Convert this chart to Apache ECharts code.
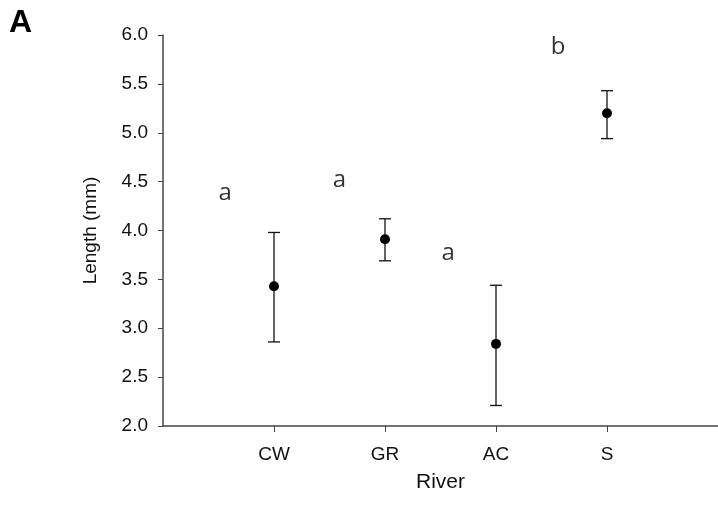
<!DOCTYPE html>
<html>
<head>
<meta charset="utf-8">
<script src="https://cdn.jsdelivr.net/npm/echarts@6/dist/echarts.min.js"></script>
<style>
  html, body { margin: 0; padding: 0; background: #fff; }
  #chart { width: 718px; height: 514px; }
</style>
</head>
<body>
<div id="chart"></div>
<script>
// Mean body length per river with error bars
const rivers = ['CW', 'GR', 'AC', 'S'];
const riverPos = [1, 2, 3, 4];
const meanLength = [3.43, 3.91, 2.84, 5.20];
const lowerLength = [2.86, 3.69, 2.21, 4.94];
const upperLength = [3.98, 4.12, 3.44, 5.43];

// Significance group letters
const groupLetters = ['a', 'a', 'a', 'b'];
const letterPos = [0.56, 1.59, 2.57, 3.56];
const letterY = [4.38, 4.51, 3.77, 5.88];

const yTicks = ['2.0', '2.5', '3.0', '3.5', '4.0', '4.5', '5.0', '5.5', '6.0'];

const chart = echarts.init(document.getElementById('chart'), null, { renderer: 'canvas' });

const axisColor = '#444';
const textFont = 'Liberation Sans, Arial, sans-serif';

chart.setOption({
  animation: false,
  grid: { left: 163, right: 0, top: 35, bottom: 88, containLabel: false },
  title: {
    text: 'A',
    left: 4,
    top: 2,
    textStyle: { fontFamily: textFont, fontWeight: 'bold', fontSize: 32, color: '#000' }
  },
  xAxis: {
    type: 'value',
    min: 0,
    max: 5,
    interval: 1,
    name: 'River',
    nameLocation: 'middle',
    nameGap: 46,
    nameTextStyle: { fontFamily: textFont, fontSize: 21, color: '#111' },
    splitLine: { show: false },
    axisLine: { show: true, lineStyle: { color: axisColor, width: 1.5 } },
    axisTick: { show: true, customValues: riverPos, length: 6, inside: false, lineStyle: { color: axisColor } },
    axisLabel: {
      customValues: riverPos,
      margin: 19,
      fontFamily: textFont,
      fontSize: 19,
      color: '#111',
      formatter: (v) => rivers[riverPos.indexOf(Math.round(v))] || ''
    }
  },
  yAxis: {
    type: 'value',
    min: 2,
    max: 6,
    interval: 0.5,
    name: 'Length (mm)',
    nameLocation: 'middle',
    nameGap: 63,
    nameRotate: 90,
    nameTextStyle: { fontFamily: textFont, fontSize: 19, color: '#111' },
    splitLine: { show: false },
    axisLine: { show: true, lineStyle: { color: axisColor, width: 1.5 } },
    axisTick: { show: true, length: 5, lineStyle: { color: axisColor } },
    axisLabel: {
      margin: 15,
      fontFamily: textFont,
      fontSize: 19,
      color: '#111',
      formatter: (v) => yTicks[Math.round((v - 2) / 0.5)]
    }
  },
  series: [
    {
      type: 'custom',
      name: 'range',
      data: riverPos.map((p, i) => [p, lowerLength[i], upperLength[i]]),
      renderItem: (params, api) => {
        const x = api.value(0);
        const lo = api.coord([x, api.value(1)]);
        const hi = api.coord([x, api.value(2)]);
        const cap = 6;
        const style = { stroke: '#111', lineWidth: 1.3 };
        return {
          type: 'group',
          children: [
            { type: 'line', shape: { x1: hi[0], y1: hi[1], x2: lo[0], y2: lo[1] }, style },
            { type: 'line', shape: { x1: hi[0] - cap, y1: hi[1], x2: hi[0] + cap, y2: hi[1] }, style },
            { type: 'line', shape: { x1: lo[0] - cap, y1: lo[1], x2: lo[0] + cap, y2: lo[1] }, style }
          ]
        };
      },
      z: 2
    },
    {
      type: 'scatter',
      name: 'mean',
      data: riverPos.map((p, i) => [p, meanLength[i]]),
      symbol: 'circle',
      symbolSize: 10,
      itemStyle: { color: '#000', opacity: 1 },
      z: 3
    },
    {
      type: 'scatter',
      name: 'groups',
      data: letterPos.map((p, i) => ({ value: [p, letterY[i]], name: groupLetters[i] })),
      symbolSize: 0,
      label: {
        show: true,
        position: 'inside',
        formatter: (d) => d.name,
        fontFamily: 'Open Sans, Noto Sans, sans-serif',
        fontSize: 24,
        color: '#000'
      },
      silent: true
    }
  ]
});
</script>
</body>
</html>
